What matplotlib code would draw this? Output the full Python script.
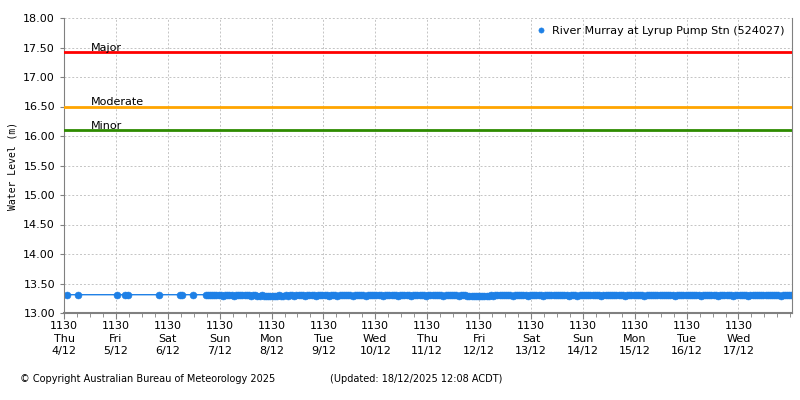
"""Water level at River Murray at Lyrup Pump Stn with flood classification lines."""

import matplotlib
matplotlib.use("Agg")
import matplotlib.pyplot as plt
import pandas as pd

STATION = "River Murray at Lyrup Pump Stn (524027)"

# sparse early readings
sparse_times = [
    "2025-12-04 13:00", "2025-12-04 18:00", "2025-12-05 12:00", "2025-12-05 15:30",
    "2025-12-05 17:00", "2025-12-06 07:30", "2025-12-06 17:00", "2025-12-06 18:00",
    "2025-12-06 23:00", "2025-12-07 05:00",
]
sparse_levels = [13.31, 13.31, 13.31, 13.31, 13.31, 13.31, 13.31, 13.31, 13.31, 13.31]

# hourly readings from 7/12 06:00 to 18/12 12:00
day07 = [13.31, 13.30, 13.30, 13.31, 13.30, 13.30, 13.30, 13.29, 13.30, 13.30, 13.30, 13.30,
         13.29, 13.30, 13.30, 13.30, 13.30, 13.30]
day08 = [13.30, 13.30, 13.29, 13.30, 13.30, 13.29, 13.29, 13.30, 13.29, 13.28, 13.29, 13.29,
         13.28, 13.29, 13.29, 13.30, 13.29, 13.29, 13.30, 13.29, 13.30, 13.30, 13.29, 13.30]
day09 = [13.30, 13.30, 13.30, 13.29, 13.30, 13.30, 13.30, 13.30, 13.29, 13.30, 13.30, 13.30,
         13.30, 13.30, 13.29, 13.30, 13.30, 13.30, 13.29, 13.30, 13.30, 13.30, 13.30, 13.30]
day10 = [13.30, 13.29, 13.30, 13.30, 13.30, 13.30, 13.30, 13.29, 13.30, 13.30, 13.30, 13.30,
         13.30, 13.30, 13.30, 13.29, 13.30, 13.30, 13.30, 13.30, 13.30, 13.30, 13.29, 13.30]
day11 = [13.30, 13.30, 13.30, 13.30, 13.29, 13.30, 13.30, 13.30, 13.30, 13.30, 13.30, 13.29,
         13.30, 13.30, 13.30, 13.30, 13.30, 13.30, 13.30, 13.29, 13.30, 13.30, 13.30, 13.30]
day12 = [13.30, 13.30, 13.29, 13.30, 13.30, 13.30, 13.29, 13.29, 13.29, 13.29, 13.29, 13.29,
         13.29, 13.29, 13.29, 13.29, 13.29, 13.30, 13.29, 13.30, 13.30, 13.30, 13.30, 13.30]
day13 = [13.30, 13.30, 13.30, 13.29, 13.30, 13.30, 13.30, 13.30, 13.30, 13.30, 13.29, 13.30,
         13.30, 13.30, 13.30, 13.30, 13.30, 13.29, 13.30, 13.30, 13.30, 13.30, 13.30, 13.30]
day14 = [13.30, 13.30, 13.30, 13.30, 13.30, 13.29, 13.30, 13.30, 13.30, 13.28, 13.30, 13.30,
         13.30, 13.30, 13.30, 13.30, 13.30, 13.30, 13.30, 13.30, 13.29, 13.30, 13.30, 13.30]
day15 = [13.30, 13.30, 13.30, 13.30, 13.30, 13.30, 13.30, 13.29, 13.30, 13.30, 13.30, 13.30,
         13.30, 13.30, 13.30, 13.30, 13.29, 13.30, 13.30, 13.30, 13.30, 13.30, 13.30, 13.30]
day16 = [13.30, 13.30, 13.30, 13.30, 13.30, 13.30, 13.29, 13.30, 13.30, 13.30, 13.30, 13.30,
         13.30, 13.30, 13.30, 13.30, 13.30, 13.30, 13.29, 13.30, 13.30, 13.30, 13.30, 13.30]
day17 = [13.30, 13.30, 13.29, 13.30, 13.30, 13.30, 13.30, 13.30, 13.30, 13.29, 13.30, 13.30,
         13.30, 13.30, 13.30, 13.30, 13.29, 13.30, 13.30, 13.30, 13.30, 13.30, 13.30, 13.30]
day18 = [13.30, 13.30, 13.30, 13.30, 13.30, 13.30, 13.30, 13.29, 13.30, 13.30, 13.30, 13.30,
         13.30]

thresholds = [("Major", 17.42, "#ff0000"), ("Moderate", 16.50, "#ffa500"), ("Minor", 16.10, "#2e8b00")]

day_labels = ["1130\nThu\n4/12", "1130\nFri\n5/12", "1130\nSat\n6/12", "1130\nSun\n7/12",
              "1130\nMon\n8/12", "1130\nTue\n9/12", "1130\nWed\n10/12", "1130\nThu\n11/12",
              "1130\nFri\n12/12", "1130\nSat\n13/12", "1130\nSun\n14/12", "1130\nMon\n15/12",
              "1130\nTue\n16/12", "1130\nWed\n17/12"]

dense_levels = day07 + day08 + day09 + day10 + day11 + day12 + day13 + day14 + day15 + day16 + day17 + day18
dense_times = pd.date_range("2025-12-07 06:00", periods=len(dense_levels), freq="h")

times = list(pd.to_datetime(sparse_times)) + list(dense_times)
levels = sparse_levels + dense_levels

plt.rcParams["font.family"] = ["DejaVu Sans"]
fig = plt.figure(figsize=(8, 4), dpi=100)
ax = fig.add_axes([0.08, 0.2175, 0.91, 0.7375])

blue = "#1e80e6"
ax.plot(times, levels, color=blue, linewidth=1.0, marker="o", markersize=5,
        markeredgewidth=0.4, markeredgecolor=blue, label=STATION)

for name, level, colour in thresholds:
    ax.axhline(level, color=colour, linewidth=2, zorder=3)
    ax.text(0.037, level - 0.01, name, transform=ax.get_yaxis_transform(),
            fontsize=8, va="bottom", ha="left")

start = pd.Timestamp("2025-12-04 11:30")
ax.set_xlim(start, pd.Timestamp("2025-12-18 12:15"))
ax.set_ylim(13.0, 18.0)

major = pd.date_range(start, periods=len(day_labels), freq="D")
ax.set_xticks(major)
ax.set_xticklabels(day_labels, fontsize=8, linespacing=1.3)
ax.set_xticks(pd.date_range(start, "2025-12-18 12:00", freq="6h"), minor=True)
ax.set_yticks([13 + 0.5 * i for i in range(11)])
ax.yaxis.set_major_formatter(plt.FormatStrFormatter("%.2f"))
ax.tick_params(axis="y", labelsize=8, length=3, color="#808080")
ax.tick_params(axis="x", which="major", length=4, color="#808080", pad=2)
ax.tick_params(axis="x", which="minor", length=3, color="#808080")

ax.grid(True, which="major", color="#c4c4c4", linestyle=(0, (2, 2)), linewidth=0.7)
for side in ["left", "right", "bottom"]:
    ax.spines[side].set_color("#808080")
ax.spines["bottom"].set_linewidth(1.5)
ax.spines["top"].set_visible(False)

ax.set_ylabel("Water Level (m)", family="DejaVu Sans Mono", fontsize=7, labelpad=4)

ax.legend(loc="upper right", frameon=False, fontsize=8, handlelength=0.8,
          handletextpad=0.6, borderaxespad=0.3, markerscale=0.75)
leg_line = ax.get_legend().get_lines()[0]
leg_line.set_linestyle("none")

fig.text(0.025, 0.045, "\u00a9 Copyright Australian Bureau of Meteorology 2025", fontsize=7)
fig.text(0.412, 0.045, "(Updated: 18/12/2025 12:08 ACDT)", fontsize=7)

fig.savefig("out.png", dpi=100)
